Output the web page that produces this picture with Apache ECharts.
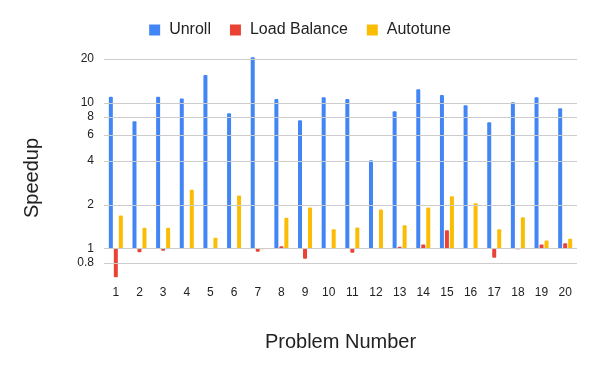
<!DOCTYPE html>
<html><head><meta charset="utf-8">
<script src="https://cdn.jsdelivr.net/npm/echarts@6/dist/echarts.min.js"></script>
<style>html,body{margin:0;padding:0;background:#fff}#c{width:600px;height:371px}</style>
</head><body><div id="c"></div>
<script>
const categories = ['1','2','3','4','5','6','7','8','9','10','11','12','13','14','15','16','17','18','19','20'];
const unroll = [11.0, 7.48, 11.0, 10.7, 15.5, 8.49, 20.5, 10.6, 7.6, 10.9, 10.6, 4.04, 8.76, 12.4, 11.3, 9.63, 7.36, 10.1, 10.9, 9.18];
const loadBalance = [0.637, 0.945, 0.969, 1.01, 1, 1, 0.954, 1.04, 0.854, 1, 0.939, 1, 1.03, 1.07, 1.34, 1.01, 0.868, 0.99, 1.07, 1.09];
const autotune = [1.69, 1.39, 1.39, 2.54, 1.19, 2.32, 0.99, 1.63, 1.92, 1.36, 1.40, 1.86, 1.45, 1.92, 2.29, 2.05, 1.36, 1.64, 1.14, 1.17];
const yTicks = [0.8, 1, 2, 4, 6, 8, 10, 20];

const chart = echarts.init(document.getElementById('c'), null, {renderer: 'canvas'});
const FONT = 'Arial, "Liberation Sans", sans-serif';
const barCommon = {type: 'bar', barWidth: 4, barGap: '25%', z: 3};
chart.setOption({
  animation: false,
  textStyle: {fontFamily: FONT},
  legend: {
    data: ['Unroll', 'Load Balance', 'Autotune'],
    top: 17, left: 'center',
    icon: 'rect', itemWidth: 11, itemHeight: 11, itemGap: 19,
    textStyle: {fontSize: 16, color: '#222', fontFamily: FONT, padding: [0, 0, 0, 4]}
  },
  grid: {left: 104, right: 23, top: 50, bottom: 93, containLabel: false},
  xAxis: {
    type: 'category', data: categories,
    axisLine: {show: false}, axisTick: {show: false},
    axisLabel: {fontSize: 12, color: '#222', margin: 9, fontFamily: FONT, interval: 0},
    name: 'Problem Number', nameLocation: 'middle', nameGap: 54,
    nameTextStyle: {fontSize: 20, color: '#222', fontFamily: FONT}
  },
  yAxis: {
    type: 'log', logBase: 10, min: 0.63, max: 23,
    axisLine: {show: false}, axisTick: {show: false},
    axisLabel: {show: false}, splitLine: {show: false},
    name: 'Speedup', nameLocation: 'middle', nameGap: 62,
    nameTextStyle: {fontSize: 20, color: '#222', fontFamily: FONT, padding: [0, 28, 0, 0]}
  },
  series: [
    {
      name: 'grid', type: 'line', data: [], z: 1, silent: true,
      markLine: {
        silent: true, symbol: ['none', 'none'], animation: false,
        lineStyle: {color: '#cccccc', width: 1, type: 'solid'},
        label: {show: true, position: 'start', distance: 10, fontSize: 12, color: '#222', fontFamily: FONT,
                formatter: p => String(p.value)},
        emphasis: {disabled: true},
        data: yTicks.map(v => ({yAxis: v}))
      }
    },
    Object.assign({}, barCommon, {name: 'Unroll', data: unroll, itemStyle: {color: '#4285F4', borderRadius: 1}}),
    Object.assign({}, barCommon, {name: 'Load Balance', data: loadBalance, itemStyle: {color: '#EA4335', borderRadius: 1}}),
    Object.assign({}, barCommon, {name: 'Autotune', data: autotune, itemStyle: {color: '#FBBC04', borderRadius: 1}})
  ]
});
</script></body></html>
